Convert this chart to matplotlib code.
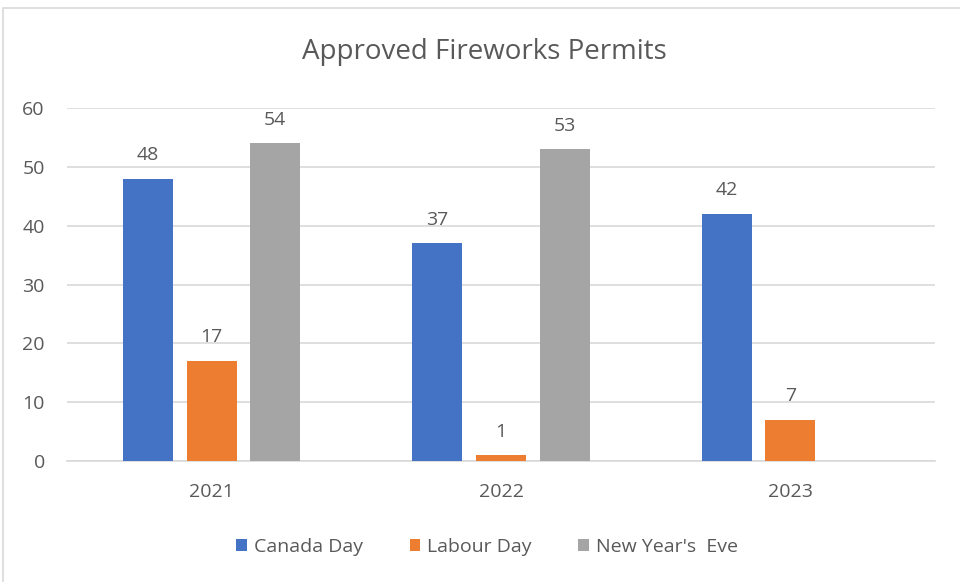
import matplotlib
matplotlib.use("Agg")
import matplotlib.pyplot as plt
import numpy as np
from matplotlib.patches import Rectangle

years = ["2021", "2022", "2023"]
series_names = ["Canada Day", "Labour Day", "New Year's  Eve"]
canada_day = [48, 37, 42]
labour_day = [17, 1, 7]
new_years_eve = [54, 53, None]
colors = ["#4472C4", "#ED7D31", "#A5A5A5"]

plt.rcParams['font.family'] = ['Open Sans', 'DejaVu Sans']
text_color = "#595959"

fig = plt.figure(figsize=(9.6, 5.82), dpi=100)
ax = fig.add_axes([67/960, 1-461/582, (935-67)/960, (461-108)/582])

# border
fig.patches.append(Rectangle((3/960, -0.01), 1.0, 1-8/582+0.01, transform=fig.transFigure,
                             fill=False, edgecolor="#D9D9D9", linewidth=1.2))

x = np.arange(len(years))
width = 0.172
step = 0.22
all_series = [canada_day, labour_day, new_years_eve]
for i, (vals, name, c) in enumerate(zip(all_series, series_names, colors)):
    xs = [xi + (i - 1) * step for xi, v in zip(x, vals) if v is not None]
    vs = [v for v in vals if v is not None]
    bars = ax.bar(xs, vs, width=width, color=c, label=name, zorder=3)
    for b, v in zip(bars, vs):
        ax.annotate(str(v), (b.get_x() + b.get_width()/2, v), xytext=(0, 10.5),
                    textcoords="offset points", ha="center", va="bottom",
                    fontsize=14, color=text_color)

ax.set_xlim(-0.5, 2.5)
ax.set_ylim(0, 60)
ax.set_yticks(range(0, 61, 10))
ax.set_xticks(x)
ax.set_xticklabels(years)
ax.yaxis.grid(True, color="#D9D9D9", linewidth=1.2, zorder=0)
for s in ["top", "right", "left"]:
    ax.spines[s].set_visible(False)
ax.spines["bottom"].set_color("#D9D9D9")
ax.spines["bottom"].set_linewidth(1.2)
ax.tick_params(axis="both", length=0, labelsize=14, labelcolor=text_color)
ax.tick_params(axis="y", pad=16)
ax.tick_params(axis="x", pad=16)

fig.text(484/960, 1-52/582, "Approved Fireworks Permits", ha="center", va="center",
         fontsize=20, color=text_color)

ax.legend(loc="center", bbox_to_anchor=(487/960, 1-547/582), bbox_transform=fig.transFigure,
          ncol=3, frameon=False, fontsize=14, labelcolor=text_color,
          handlelength=0.55, handleheight=0.55, handletextpad=0.35, columnspacing=2.4)

fig.savefig("out.png", dpi=100)
